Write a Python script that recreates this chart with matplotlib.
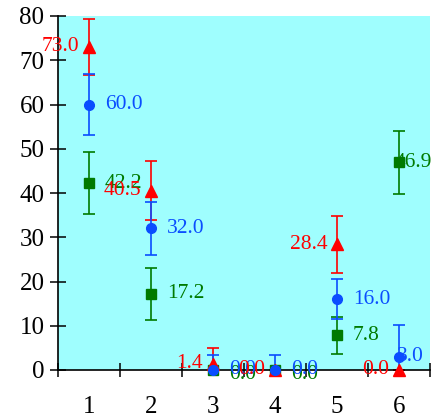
import numpy as np
import matplotlib
matplotlib.use("Agg")
import matplotlib.pyplot as plt

# groups along the x axis
groups = ["1", "2", "3", "4", "5", "6"]

# three series: value and +/- error
red_vals = [73.0, 40.5, 1.4, 0.0, 28.4, 0.0]
red_err = [6.3, 6.7, 3.6, 0.0, 6.4, 0.0]
blue_vals = [60.0, 32.0, 0.0, 0.0, 16.0, 3.0]
blue_err = [7.0, 6.0, 3.4, 3.4, 4.5, 7.2]
green_vals = [42.2, 17.2, 0.0, 0.0, 7.8, 46.9]
green_err = [7.0, 5.9, 0.0, 0.0, 4.2, 7.2]

y_ticks = [0, 10, 20, 30, 40, 50, 60, 70, 80]

RED = "#ff0000"
BLUE = "#0a4dff"
GREEN = "#007a00"
SERIF = "Liberation Serif"
LABEL_SIZE = 15.5
TICK_SIZE = 18

fig = plt.figure(figsize=(4.32, 4.16), dpi=100)
ax = fig.add_axes([58 / 432, 46 / 416, 372 / 432, 354 / 416])
ax.set_facecolor("#9ffefe")

x = np.arange(1, len(groups) + 1)

series = [
    (green_vals, green_err, GREEN, "s", 6.5, 2),
    (red_vals, red_err, RED, "^", 8, 3),
    (blue_vals, blue_err, BLUE, "o", 7, 4),
]
for vals, err, col, mk, ms, z in series:
    ax.errorbar(x, vals, yerr=err, fmt="none", ecolor=col, elinewidth=1.2,
                capsize=4.5, capthick=1.2, zorder=z)
    ax.plot(x, vals, linestyle="none", marker=mk, markersize=ms, color=col,
            clip_on=False, zorder=z + 10)

# value labels: red to the left, blue and green to the right
# (the last group has no room on the right, so those labels sit on the marker)
last = len(groups) - 1
for i, v in enumerate(red_vals):
    ax.annotate(f"{v:.1f}", (x[i], v), xytext=(-7, 0), textcoords="offset points",
                ha="right", va="center", color=RED, fontsize=LABEL_SIZE, family=SERIF,
                zorder=9, annotation_clip=False)
for i, v in enumerate(blue_vals):
    dx = -1.5 if i == last else 11.5
    ax.annotate(f"{v:.1f}", (x[i], v), xytext=(dx, 0), textcoords="offset points",
                ha="left", va="center", color=BLUE, fontsize=LABEL_SIZE, family=SERIF,
                zorder=8, annotation_clip=False)
for i, v in enumerate(green_vals):
    dx = -3 if i == last else 11.5
    dy = -3 if v == 0 else 0
    ax.annotate(f"{v:.1f}", (x[i], v), xytext=(dx, dy), textcoords="offset points",
                ha="left", va="center", color=GREEN, fontsize=LABEL_SIZE, family=SERIF,
                zorder=7, annotation_clip=False)

ax.set_xlim(0.5, len(groups) + 0.5)
ax.set_ylim(0, 80)

ax.spines["top"].set_visible(False)
ax.spines["right"].set_visible(False)
for s in ("left", "bottom"):
    ax.spines[s].set_linewidth(1.2)
    ax.spines[s].set_zorder(6)

ax.set_yticks(y_ticks)
ax.set_yticklabels([str(t) for t in y_ticks], family=SERIF, fontsize=TICK_SIZE)
ax.tick_params(axis="y", direction="inout", length=11.5, width=1.1, pad=4)

# group boundaries as major ticks, group names on minor ticks
ax.set_xticks(np.arange(0.5, len(groups) + 1, 1.0))
ax.set_xticklabels([])
ax.set_xticks(x, minor=True)
ax.set_xticklabels(groups, minor=True, family=SERIF, fontsize=TICK_SIZE)
ax.tick_params(axis="x", which="major", direction="inout", length=10, width=1.1)
ax.tick_params(axis="x", which="minor", length=0, pad=19)

fig.savefig("out.png", dpi=100)
